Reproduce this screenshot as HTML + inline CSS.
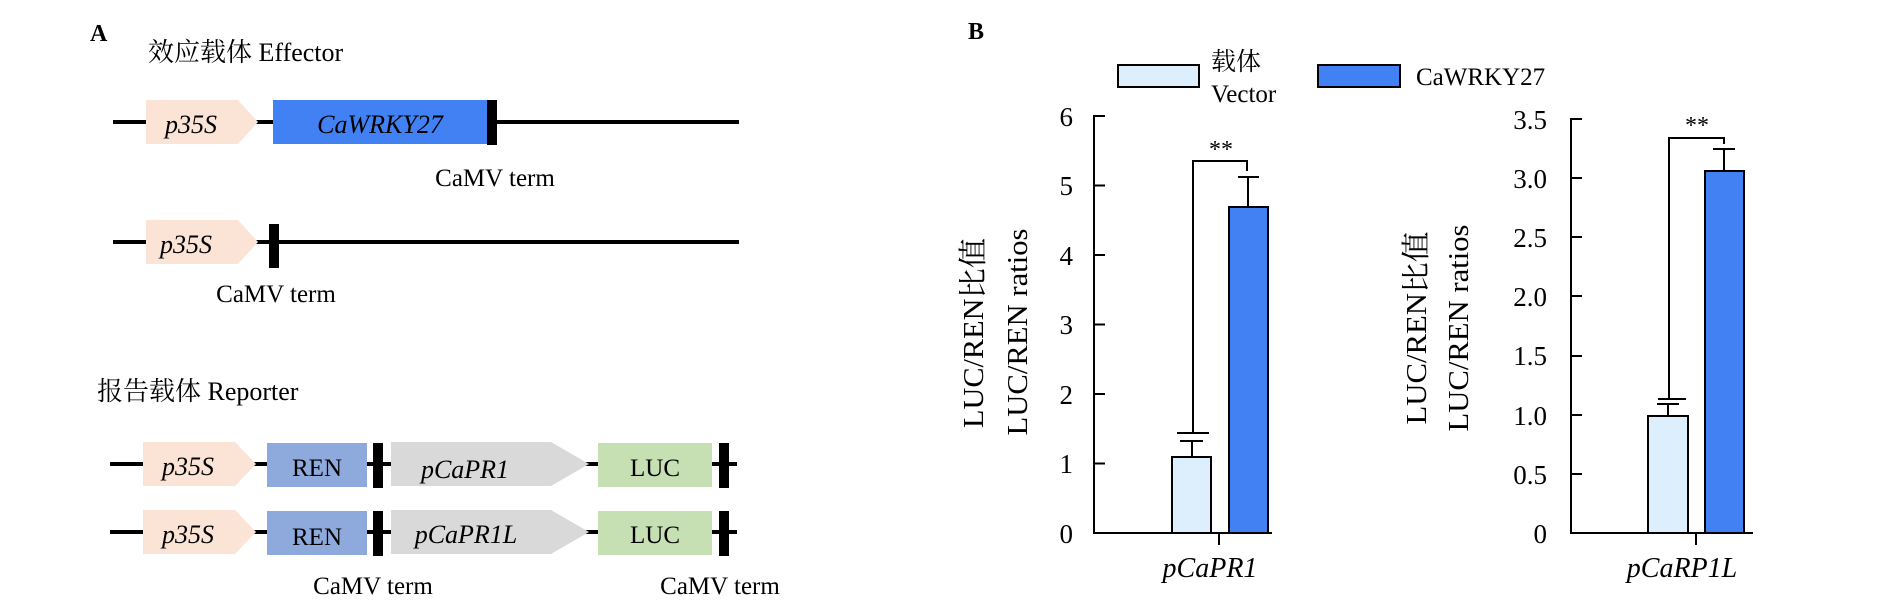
<!DOCTYPE html>
<html><head><meta charset="utf-8"><style>
html,body{margin:0;padding:0;background:#fff;}
svg{display:block;}
text{font-family:"Liberation Serif","Noto Serif CJK SC",serif;fill:#000;}
</style></head><body>
<svg width="1890" height="614" viewBox="0 0 1890 614" xmlns="http://www.w3.org/2000/svg">
<!-- Panel A -->
<text x="90" y="41" font-size="24" font-weight="bold">A</text>
<text x="148" y="61" font-size="26">效应载体 Effector</text>
<line x1="113" y1="122" x2="739" y2="122" stroke="#000" stroke-width="4"/>
<polygon points="146,100 238,100 258,122 238,144 146,144" fill="#fbe4d6"/>
<text x="165" y="133" font-size="26" font-style="italic">p35S</text>
<rect x="273" y="100" width="214" height="44" fill="#4281f4"/>
<rect x="487" y="100" width="10" height="45" fill="#000"/>
<text x="380" y="133" font-size="26" font-style="italic" text-anchor="middle">CaWRKY27</text>
<text x="495" y="186" font-size="25" text-anchor="middle">CaMV term</text>
<line x1="113" y1="242" x2="739" y2="242" stroke="#000" stroke-width="4"/>
<polygon points="146,220 238,220 258,242 238,264 146,264" fill="#fbe4d6"/>
<text x="160" y="253" font-size="26" font-style="italic">p35S</text>
<rect x="269" y="224" width="10" height="44" fill="#000"/>
<text x="276" y="302" font-size="25" text-anchor="middle">CaMV term</text>
<text x="97" y="400" font-size="26">报告载体 Reporter</text>
<g>
<line x1="110" y1="464" x2="737" y2="464" stroke="#000" stroke-width="4"/>
<polygon points="143,442 235,442 256,464 235,486 143,486" fill="#fbe4d6"/>
<text x="162" y="475" font-size="26" font-style="italic">p35S</text>
<rect x="267" y="443" width="100" height="44" fill="#8eaadc"/>
<text x="317" y="476" font-size="25" text-anchor="middle">REN</text>
<rect x="373" y="443" width="10" height="45" fill="#000"/>
<polygon points="391,442 551,442 589,464 551,486 391,486" fill="#d9d9d9"/>
<rect x="598" y="443" width="114" height="44" fill="#c6e0b4"/>
<text x="655" y="476" font-size="25" text-anchor="middle">LUC</text>
<rect x="719" y="443" width="10" height="45" fill="#000"/>
</g>
<text x="465" y="478" font-size="26" font-style="italic" text-anchor="middle">pCaPR1</text>
<g transform="translate(0,68)">
<line x1="110" y1="464" x2="737" y2="464" stroke="#000" stroke-width="4"/>
<polygon points="143,442 235,442 256,464 235,486 143,486" fill="#fbe4d6"/>
<text x="162" y="475" font-size="26" font-style="italic">p35S</text>
<rect x="267" y="443" width="100" height="44" fill="#8eaadc"/>
<text x="317" y="477" font-size="25" text-anchor="middle">REN</text>
<rect x="373" y="443" width="10" height="45" fill="#000"/>
<polygon points="391,442 551,442 589,464 551,486 391,486" fill="#d9d9d9"/>
<rect x="598" y="443" width="114" height="44" fill="#c6e0b4"/>
<text x="655" y="475" font-size="25" text-anchor="middle">LUC</text>
<rect x="719" y="443" width="10" height="45" fill="#000"/>
<text x="466" y="475" font-size="26" font-style="italic" text-anchor="middle">pCaPR1L</text>
</g>
<text x="373" y="594" font-size="25" text-anchor="middle">CaMV term</text>
<text x="720" y="594" font-size="25" text-anchor="middle">CaMV term</text>

<!-- Panel B -->
<text x="968" y="39" font-size="24" font-weight="bold">B</text>
<rect x="1118" y="65" width="81" height="22" fill="#ddeefc" stroke="#000" stroke-width="2"/>
<text x="1211" y="70" font-size="25">载体</text>
<text x="1211" y="102" font-size="25">Vector</text>
<rect x="1318" y="65" width="82" height="22" fill="#4281f4" stroke="#000" stroke-width="2"/>
<text x="1416" y="85" font-size="25">CaWRKY27</text>

<!-- chart 1 -->
<g stroke="#000" stroke-width="2" fill="none">
<line x1="1094" y1="115" x2="1094" y2="534"/>
<line x1="1093" y1="533" x2="1272" y2="533"/>
<line x1="1219" y1="533" x2="1219" y2="545"/>
<line x1="1094" y1="116" x2="1105" y2="116"/>
<line x1="1094" y1="185.5" x2="1105" y2="185.5"/>
<line x1="1094" y1="255" x2="1105" y2="255"/>
<line x1="1094" y1="324.5" x2="1105" y2="324.5"/>
<line x1="1094" y1="394" x2="1105" y2="394"/>
<line x1="1094" y1="463.5" x2="1105" y2="463.5"/>
</g>
<rect x="1172" y="457" width="39" height="76" fill="#ddeefc" stroke="#000" stroke-width="2"/>
<rect x="1229" y="207" width="39" height="326" fill="#4281f4" stroke="#000" stroke-width="2"/>
<g stroke="#000" stroke-width="2" fill="none">
<line x1="1192" y1="457" x2="1192" y2="441"/><line x1="1180" y1="441" x2="1203" y2="441"/>
<line x1="1248" y1="207" x2="1248" y2="177"/><line x1="1238" y1="177" x2="1259" y2="177"/>
<polyline points="1193,433 1193,161 1247,161 1247,171"/>
<line x1="1177" y1="433" x2="1209" y2="433"/>
</g>
<text x="1221" y="157" font-size="24" text-anchor="middle">**</text>
<g font-size="27" text-anchor="end">
<text x="1073" y="543">0</text><text x="1073" y="473">1</text><text x="1073" y="404">2</text>
<text x="1073" y="334">3</text><text x="1073" y="265">4</text><text x="1073" y="195">5</text><text x="1073" y="126">6</text>
</g>
<text transform="translate(983,333) rotate(-90)" font-size="29" text-anchor="middle" textLength="190" lengthAdjust="spacingAndGlyphs">LUC/REN比值</text>
<text transform="translate(1027,332) rotate(-90)" font-size="29" text-anchor="middle" textLength="207" lengthAdjust="spacingAndGlyphs">LUC/REN ratios</text>
<text x="1210" y="577" font-size="28" font-style="italic" text-anchor="middle">pCaPR1</text>

<!-- chart 2 -->
<g stroke="#000" stroke-width="2" fill="none">
<line x1="1571" y1="118" x2="1571" y2="534"/>
<line x1="1570" y1="533" x2="1753" y2="533"/>
<line x1="1696" y1="533" x2="1696" y2="545"/>
<line x1="1571" y1="119" x2="1582" y2="119"/>
<line x1="1571" y1="178" x2="1582" y2="178"/>
<line x1="1571" y1="237" x2="1582" y2="237"/>
<line x1="1571" y1="296" x2="1582" y2="296"/>
<line x1="1571" y1="356" x2="1582" y2="356"/>
<line x1="1571" y1="415" x2="1582" y2="415"/>
<line x1="1571" y1="474" x2="1582" y2="474"/>
</g>
<rect x="1648" y="416" width="40" height="117" fill="#ddeefc" stroke="#000" stroke-width="2"/>
<rect x="1705" y="171" width="39" height="362" fill="#4281f4" stroke="#000" stroke-width="2"/>
<g stroke="#000" stroke-width="2" fill="none">
<line x1="1668" y1="416" x2="1668" y2="404"/><line x1="1657" y1="404" x2="1679" y2="404"/>
<line x1="1724" y1="171" x2="1724" y2="149"/><line x1="1713" y1="149" x2="1735" y2="149"/>
<polyline points="1669,399 1669,138 1724,138 1724,144"/>
<line x1="1658" y1="399" x2="1686" y2="399"/>
</g>
<text x="1697" y="133" font-size="24" text-anchor="middle">**</text>
<g font-size="27" text-anchor="end">
<text x="1547" y="543">0</text><text x="1547" y="484">0.5</text><text x="1547" y="425">1.0</text>
<text x="1547" y="365">1.5</text><text x="1547" y="306">2.0</text><text x="1547" y="247">2.5</text>
<text x="1547" y="188">3.0</text><text x="1547" y="129">3.5</text>
</g>
<text transform="translate(1426,328) rotate(-90)" font-size="29" text-anchor="middle" textLength="193" lengthAdjust="spacingAndGlyphs">LUC/REN比值</text>
<text transform="translate(1468,328) rotate(-90)" font-size="29" text-anchor="middle" textLength="207" lengthAdjust="spacingAndGlyphs">LUC/REN ratios</text>
<text x="1682" y="577" font-size="28" font-style="italic" text-anchor="middle">pCaRP1L</text>
</svg>
</body></html>
